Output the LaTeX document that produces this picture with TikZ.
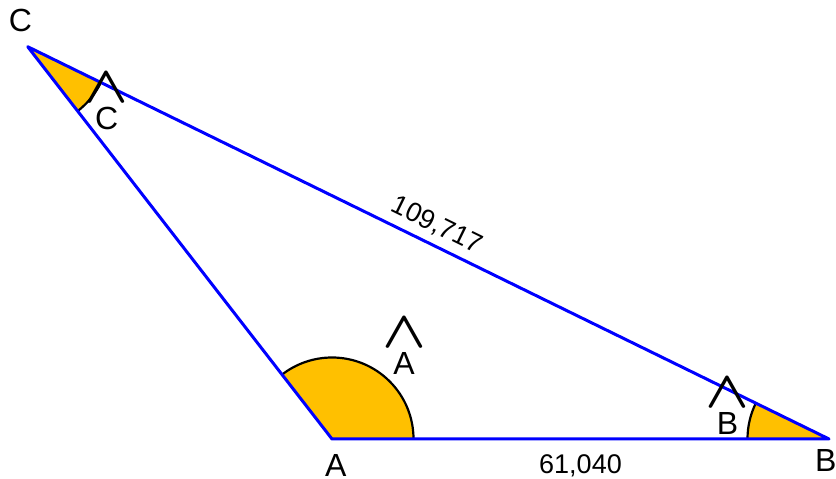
\documentclass[tikz,border=0pt]{standalone}
\usepackage{fontspec}
\setmainfont{Liberation Sans}
\definecolor{AngleOrange}{HTML}{FFC000}
\definecolor{SideBlue}{HTML}{0000FF}
\usetikzlibrary{angles,positioning}
\newcommand{\hatted}[1]{\ooalign{#1\cr\hidewidth\raisebox{27pt}{\scalebox{2.3}[2.1]{\boldmath$\wedge$}}\hidewidth\cr}}

\begin{document}
\begin{tikzpicture}[
  x=1pt, y=1pt,
  side/.style={draw=SideBlue, line width=3pt, line join=round},
  wedge/.style={draw=black, line width=2.2pt, fill=AngleOrange, angle radius=81.5pt},
  lbl/.style={font=\fontsize{32}{36}\selectfont, inner sep=0pt, anchor=base},
  sidelbl/.style={font=\fontsize{27}{31}\selectfont, inner sep=0pt}
]
  \useasboundingbox (0,0) rectangle (836,479);
  \coordinate (A) at (332,40);
  \coordinate (B) at (829,40);
  \coordinate (C) at (27.7,432.3);

  % angles
  \pic[wedge] {angle=B--A--C};
  \pic[wedge] {angle=C--B--A};
  \pic[wedge] {angle=A--C--B};

  % triangle
  \draw[side] (A) -- (B) -- (C) -- cycle;

  \path (A) -- node[sidelbl, below=15pt, pos=0.5] (ab) {61,040} (B);
  \path (C) -- node[sidelbl, sloped, above=8pt, pos=0.5] (bc) {109,717} (B);

  % labels
  \node[lbl] (lblA) at (335.8,2.3) {A};
  \node[lbl] (lblB) at (825.7,7.3) {B};
  \node[lbl] (lblC) at (20.5,447.3) {C};
  \node[lbl] (hatA) at (404,104) {\hatted{A}};
  \node[lbl] (hatB) at (727.5,44) {\hatted{B}};
  \node[lbl] (hatC) at (106.7,349.3) {\hatted{C}};
\end{tikzpicture}
\end{document}
